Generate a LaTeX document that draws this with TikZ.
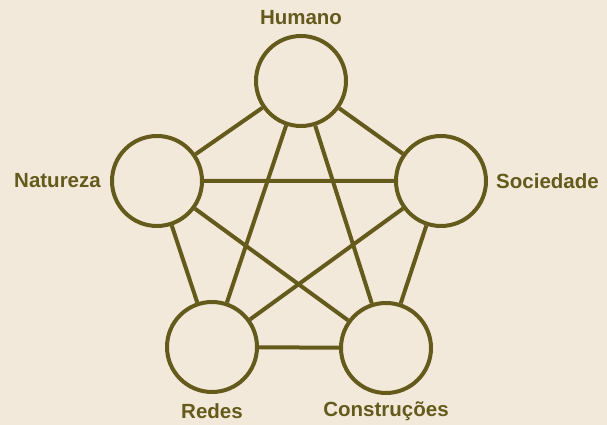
\documentclass[tikz,border=0pt]{standalone}
\usepackage{fontspec}
\setmainfont{Liberation Sans}
\usetikzlibrary{positioning}
\definecolor{fundo}{RGB}{243,233,218}
\definecolor{oliva}{RGB}{100,90,28}

\tikzset{
  elo/.style={draw=oliva,line width=4pt,circle,minimum size=90pt,inner sep=0pt},
  rotulo/.style={text=oliva,font=\fontsize{20.5}{24}\selectfont\bfseries,inner sep=0pt},
  aresta/.style={draw=oliva,line width=4pt}
}

\begin{document}
\begin{tikzpicture}[x=1pt,y=1pt]
  \fill[fundo] (0,0) rectangle (607,425);
  \useasboundingbox (0,0) rectangle (607,425);

  % os cinco elos
  \node[elo] (hum) at (301,344) {};
  \node[elo] (nat) at (157,244) {};
  \node[elo] (soc) at (441,244) {};
  \node[elo] (red) at (212,78) {};
  \node[elo] (con) at (386,77) {};

  \node[rotulo,above=9pt of hum] (lhum) {Humano};
  \node[rotulo,left=9pt of nat] (lnat) {Natureza};
  \node[rotulo,right=8pt of soc] (lsoc) {Sociedade};
  \node[rotulo,below=9pt of red] (lred) {Redes};
  \node[rotulo,below=7pt of con] (lcon) {Construções};

  % todas as ligacoes
  \draw[aresta] (hum) -- (nat) (hum) -- (soc) (hum) -- (red) (hum) -- (con);
  \draw[aresta] (nat) -- (soc) (nat) -- (red) (nat) -- (con);
  \draw[aresta] (soc) -- (red) (soc) -- (con);
  \draw[aresta] (red) -- (con);
\end{tikzpicture}
\end{document}
